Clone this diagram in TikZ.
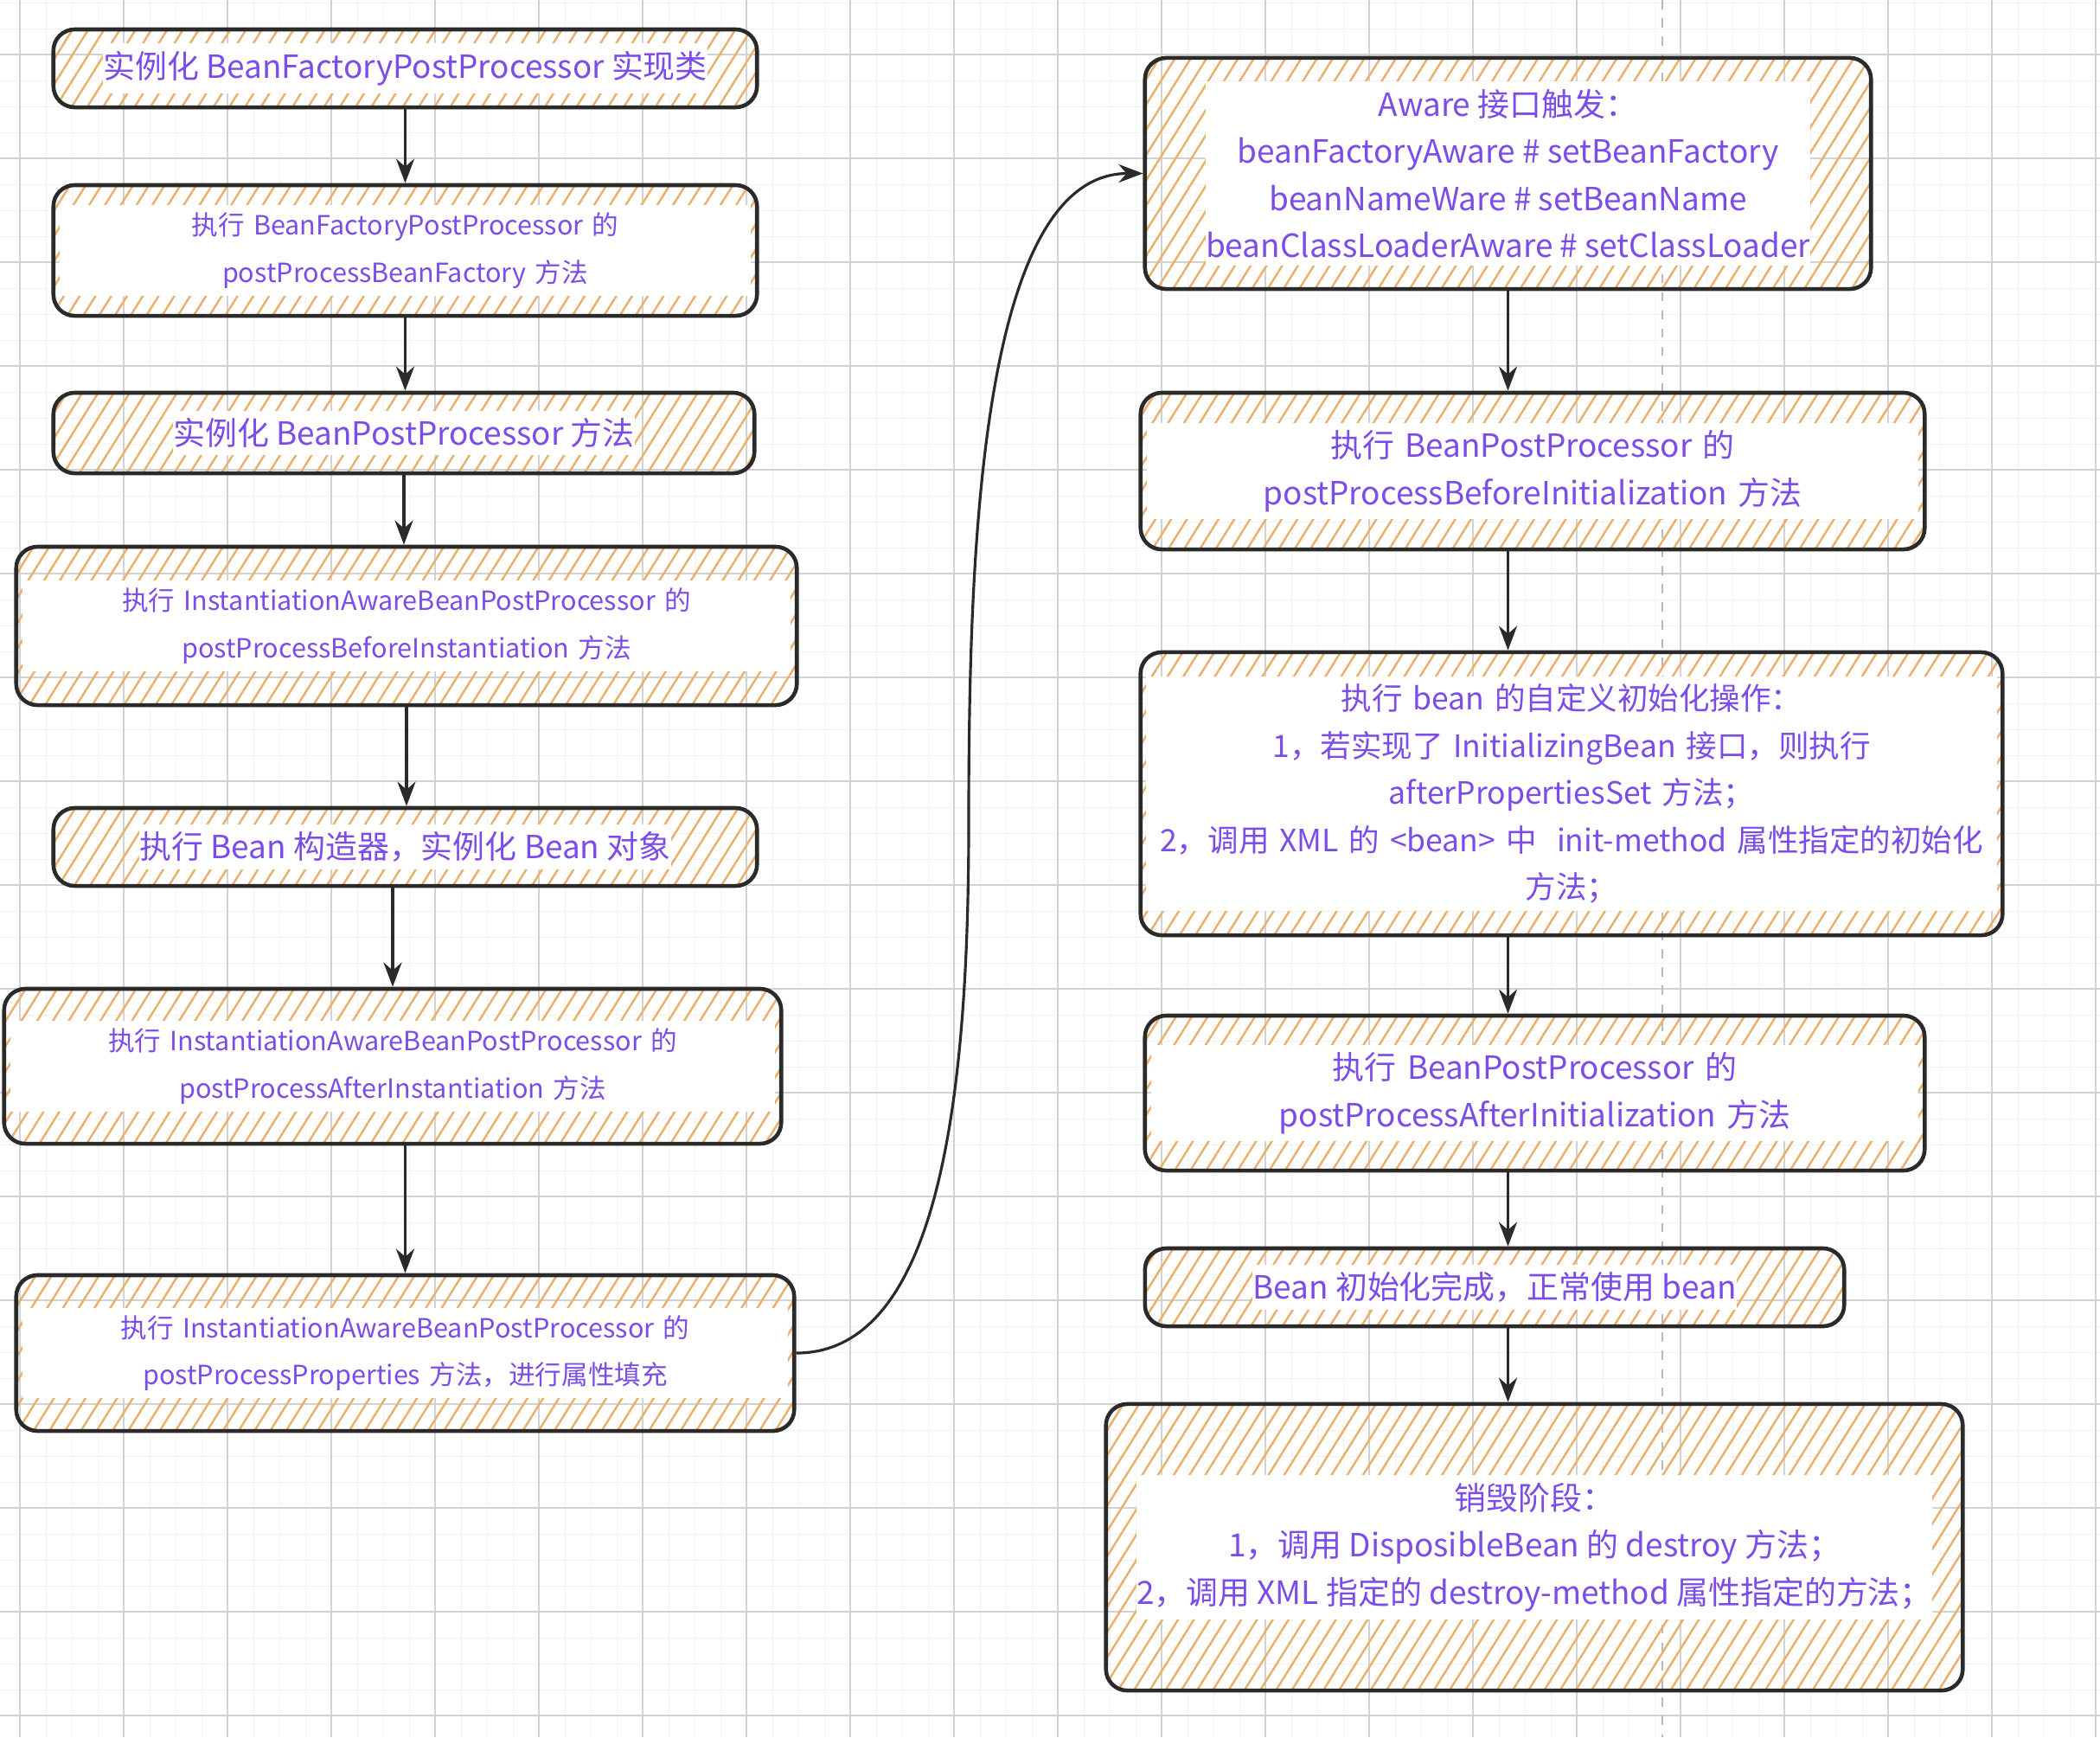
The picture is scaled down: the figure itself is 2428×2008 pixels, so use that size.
\documentclass[tikz,border=0pt]{standalone}
\usepackage{fontspec}
\setmainfont{Noto Sans CJK SC}
\usepackage{xcolor}
\usetikzlibrary{arrows.meta, patterns.meta}

\definecolor{ink}{RGB}{42,42,42}
\definecolor{hatch}{RGB}{234,176,108}
\definecolor{txt}{RGB}{124,76,232}
\definecolor{gridmajor}{RGB}{210,210,210}
\definecolor{gridminor}{RGB}{242,242,242}
\definecolor{guideline}{RGB}{185,185,185}

\newcommand{\bigtxt}{\fontsize{10.5pt}{15.5pt}\selectfont}
\newcommand{\midtxt}{\fontsize{10.1pt}{15.5pt}\selectfont}
\newcommand{\smalltxt}{\fontsize{8.7pt}{15.5pt}\selectfont}

\tikzset{
  stage/.style={draw=ink, line width=1.3pt, rounded corners=7pt, inner sep=0pt,
    pattern={Lines[angle=58, distance=4.4pt, line width=0.7pt]}, pattern color=hatch},
  caption/.style={fill=white, text=txt, align=center, inner xsep=0pt, inner ysep=2.5pt},
  flow/.style={draw=ink, line width=0.9pt, -{Stealth[length=8pt, width=6pt]}},
  minorgrid/.style={draw=gridminor, line width=0.4pt},
  majorgrid/.style={draw=gridmajor, line width=0.5pt},
  guide/.style={draw=guideline, line width=0.6pt, dash pattern=on 3pt off 3pt}
}

\begin{document}
\begin{tikzpicture}[x=0.01cm, y=-0.01cm]
  \useasboundingbox (0,0) rectangle (2428,2008);
  \fill[white] (0,0) rectangle (2428,2008);

  % thin grid lines
  \foreach \k in {0,...,81}{
    \draw[minorgrid] ({-6.7+30*\k},0) -- ({-6.7+30*\k},2008);
  }
  \foreach \k in {0,...,66}{
    \draw[minorgrid] (0,{3.3+30*\k}) -- (2428,{3.3+30*\k});
  }
  % grid outer lines
  \foreach \k in {0,...,20}{
    \draw[majorgrid] ({23.3+120*\k},0) -- ({23.3+120*\k},2008);
  }
  \foreach \k in {0,...,16}{
    \draw[majorgrid] (0,{63.3+120*\k}) -- (2428,{63.3+120*\k});
  }
  \draw[guide] (1922,0) -- (1922,2008);

  %---- fase di creazione (sinistra) ----
  \node[stage, minimum width=8.13cm, minimum height=0.90cm] (inst) at (468.5,79) {};
  \node[stage, minimum width=8.13cm, minimum height=1.51cm] (bfpp) at (468.5,289.5) {};
  \node[stage, minimum width=8.10cm, minimum height=0.93cm] (bppNew) at (467,500.5) {};
  \node[stage, minimum width=9.02cm, minimum height=1.83cm] (beforeInst) at (470,723.5) {};
  \node[stage, minimum width=8.13cm, minimum height=0.90cm] (ctor) at (468.5,979) {};
  \node[stage, minimum width=8.98cm, minimum height=1.79cm] (afterInst) at (454,1232.5) {};
  \node[stage, minimum width=8.99cm, minimum height=1.80cm] (props) at (468.5,1564) {};

  \node[caption, font=\bigtxt] (instText) at (inst.center) {实例化 BeanFactoryPostProcessor 实现类};
  \node[caption, font=\smalltxt, text width=7.99cm] (bfppText) at (bfpp.center)
    {执行 BeanFactoryPostProcessor 的\\postProcessBeanFactory 方法};
  \node[caption, font=\bigtxt] (bppNewText) at (bppNew.center) {实例化 BeanPostProcessor 方法};
  \node[caption, font=\smalltxt, text width=8.88cm] (beforeInstText) at (beforeInst.center)
    {执行 InstantiationAwareBeanPostProcessor 的\\postProcessBeforeInstantiation 方法};
  \node[caption, font=\bigtxt] (ctorText) at (ctor.center) {执行 Bean 构造器，实例化 Bean 对象};
  \node[caption, font=\smalltxt, text width=8.84cm] (afterInstText) at (afterInst.center)
    {执行 InstantiationAwareBeanPostProcessor 的\\postProcessAfterInstantiation 方法};
  \node[caption, font=\smalltxt, text width=8.85cm] (propsText) at (props.center)
    {执行 InstantiationAwareBeanPostProcessor 的\\postProcessProperties 方法，进行属性填充};

  %---- inizializzazione e distruzione (destra) ----
  \node[stage, minimum width=8.39cm, minimum height=2.67cm] (aware) at (1743.5,200.5) {};
  \node[stage, minimum width=9.06cm, minimum height=1.81cm] (beforeInit) at (1772,544.5) {};
  \node[stage, minimum width=9.96cm, minimum height=3.27cm] (initMethod) at (1817,917.5) {};
  \node[stage, minimum width=9.01cm, minimum height=1.79cm] (afterInit) at (1774.5,1263.5) {};
  \node[stage, minimum width=8.08cm, minimum height=0.90cm] (ready) at (1728,1488) {};
  \node[stage, minimum width=9.90cm, minimum height=3.31cm] (destroy) at (1774,1788.5) {};

  \node[caption, font=\bigtxt] (awareText) at (aware.center)
    {Aware 接口触发：\\beanFactoryAware \# setBeanFactory\\beanNameWare \# setBeanName\\beanClassLoaderAware \# setClassLoader};
  \node[caption, font=\bigtxt, text width=8.92cm] (beforeInitText) at (beforeInit.center)
    {执行 BeanPostProcessor 的\\postProcessBeforeInitialization 方法};
  \node[caption, font=\midtxt, text width=9.84cm] (initMethodText) at (initMethod.center)
    {执行 bean 的自定义初始化操作：\\1，若实现了 InitializingBean 接口，则执行\\afterPropertiesSet 方法；\\\mbox{2，调用 XML 的 <bean> 中\ \ init-method 属性指定的初始化}\\方法；};
  \node[caption, font=\bigtxt, text width=8.87cm] (afterInitText) at (afterInit.center)
    {执行 BeanPostProcessor 的\\postProcessAfterInitialization 方法};
  \node[caption, font=\bigtxt] (readyText) at (ready.center) {Bean 初始化完成，正常使用 bean};
  \node[caption, font=\bigtxt] (destroyText) at (destroy.center)
    {销毁阶段：\\1，调用 DisposibleBean 的 destroy 方法；\\2，调用 XML 指定的 destroy-method 属性指定的方法；};

  % frecce
  \draw[flow] (inst.south) -- (bfpp.north);
  \draw[flow] (bfpp.south) -- (bfpp.south |- bppNew.north);
  \draw[flow] (bppNew.south) -- (bppNew.south |- beforeInst.north);
  \draw[flow] (beforeInst.south) -- (beforeInst.south |- ctor.north);
  \draw[flow] (ctor.south -| afterInst.north) -- (afterInst.north);
  \draw[flow] (props.north |- afterInst.south) -- (props.north);

  \coordinate (turn) at (1120,950);
  \draw[flow] (props.east) .. controls +(170,0) and +(0,300) .. (turn)
    .. controls +(0,-300) and +(-190,0) .. (aware.west);

  \draw[flow] (aware.south) -- (aware.south |- beforeInit.north);
  \draw[flow] (aware.south |- beforeInit.south) -- (aware.south |- initMethod.north);
  \draw[flow] (aware.south |- initMethod.south) -- (aware.south |- afterInit.north);
  \draw[flow] (aware.south |- afterInit.south) -- (aware.south |- ready.north);
  \draw[flow] (aware.south |- ready.south) -- (aware.south |- destroy.north);

\end{tikzpicture}
\end{document}
